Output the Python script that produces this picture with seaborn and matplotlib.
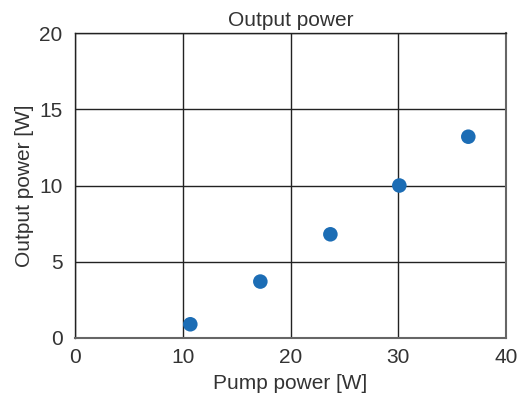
import seaborn as sns
import matplotlib.pyplot as plt
import pandas as pd

sns.set_theme(style="white")
plt.rcParams['font.family'] = ['Liberation Sans', 'DejaVu Sans']

# Measured points
pump_power = [10.7, 17.2, 23.7, 30.1, 36.5]
output_power = [0.9, 3.7, 6.8, 10.0, 13.2]
x_ticks = [0, 10, 20, 30, 40]
y_ticks = [0, 5, 10, 15, 20]

df = pd.DataFrame({"pump": pump_power, "out": output_power})

fig = plt.figure(figsize=(5.26, 4.03), dpi=100)
ax = fig.add_axes([0.1426, 0.1613, 0.8194, 0.7568])

sns.scatterplot(data=df, x="pump", y="out", color="#1c6db5", s=110,
                edgecolor="none", ax=ax, zorder=3)

ax.set(xlim=(0, 40), ylim=(0, 20))
ax.set_xticks(x_ticks)
ax.set_yticks(y_ticks)
ax.grid(True, color="#222222", linewidth=1.0)
ax.tick_params(axis="both", labelsize=15, length=0, colors="#333333")
ax.tick_params(axis="x", pad=7)
ax.tick_params(axis="y", pad=9)
for side in ["left", "top"]:
    ax.spines[side].set_color("#222222")
    ax.spines[side].set_linewidth(1.0)
for side in ["bottom", "right"]:
    ax.spines[side].set_color("#666666")
    ax.spines[side].set_linewidth(1.5)

ax.set_xlabel("Pump power [W]", fontsize=15, color="#333333", labelpad=5)
ax.set_ylabel("Output power [W]", fontsize=15, color="#333333", labelpad=4)
ax.set_title("Output power", fontsize=15, color="#333333", pad=5)

fig.savefig("out.png", dpi=100)
